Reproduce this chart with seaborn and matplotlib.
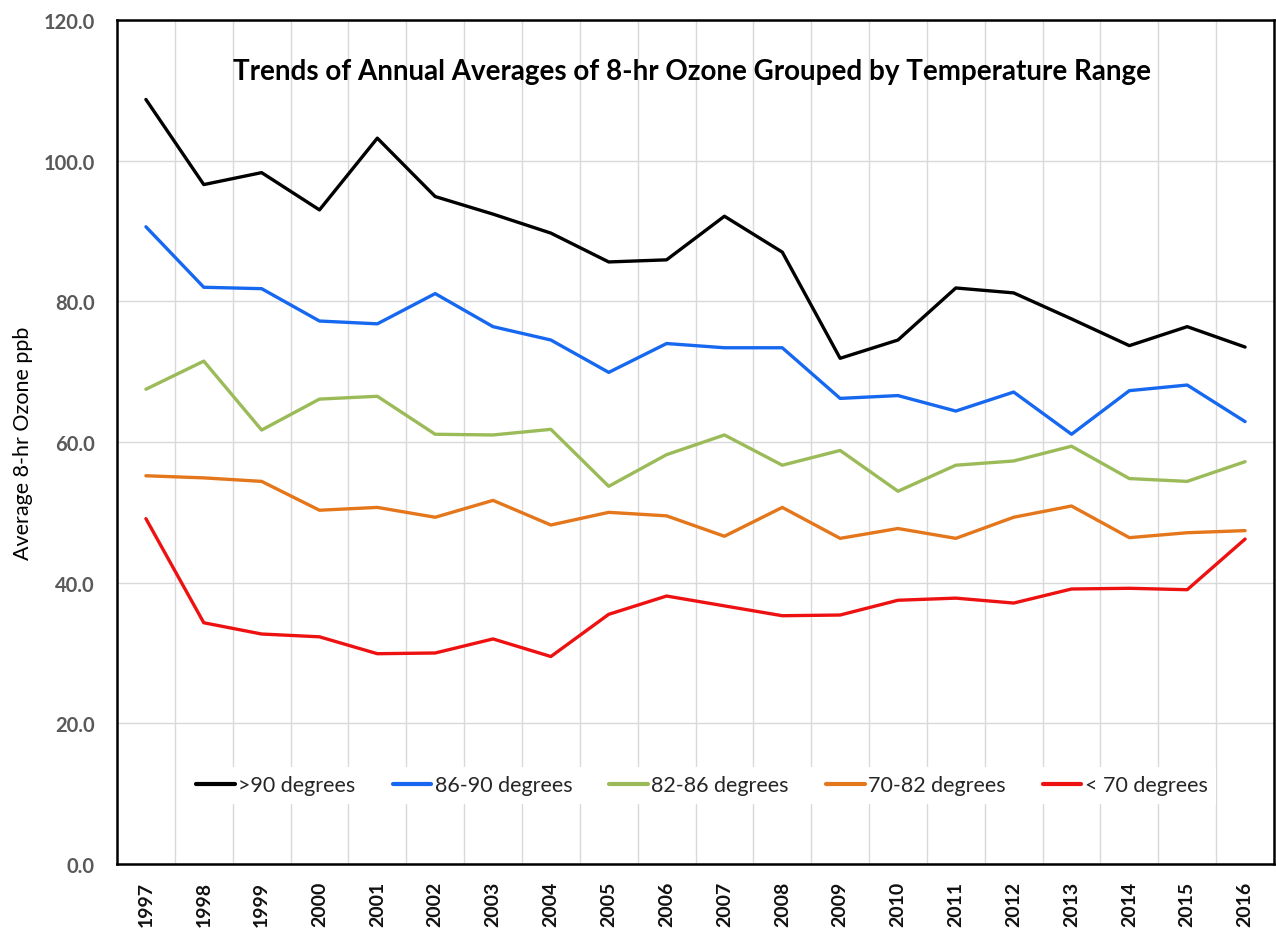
import matplotlib
matplotlib.use("Agg")
import matplotlib.pyplot as plt
import seaborn as sns
import pandas as pd
import numpy as np

years = [str(y) for y in range(1997, 2017)]
series_names = [">90 degrees", "86-90 degrees", "82-86 degrees", "70-82 degrees", "< 70 degrees"]
over90 = [108.7, 96.6, 98.3, 93.0, 103.2, 94.9, 92.4, 89.7, 85.6, 85.9,
          92.1, 87.0, 71.9, 74.5, 81.9, 81.2, 77.5, 73.7, 76.4, 73.5]
t86_90 = [90.6, 82.0, 81.8, 77.2, 76.8, 81.1, 76.4, 74.5, 69.9, 74.0,
          73.4, 73.4, 66.2, 66.6, 64.4, 67.1, 61.1, 67.3, 68.1, 62.9]
t82_86 = [67.5, 71.5, 61.7, 66.1, 66.5, 61.1, 61.0, 61.8, 53.7, 58.2,
          61.0, 56.7, 58.8, 53.0, 56.7, 57.3, 59.4, 54.8, 54.4, 57.2]
t70_82 = [55.2, 54.9, 54.4, 50.3, 50.7, 49.3, 51.7, 48.2, 50.0, 49.5,
          46.6, 50.7, 46.3, 47.7, 46.3, 49.3, 50.9, 46.4, 47.1, 47.4]
under70 = [49.1, 34.3, 32.7, 32.3, 29.9, 30.0, 32.0, 29.5, 35.5, 38.1,
           36.7, 35.3, 35.4, 37.5, 37.8, 37.1, 39.1, 39.2, 39.0, 46.2]
colors = ["#000000", "#1768F0", "#9BBB59", "#E4761B", "#EE1111"]
y_ticks = [0, 20, 40, 60, 80, 100, 120]

title = "Trends of Annual Averages of 8-hr Ozone Grouped by Temperature Range"
ylabel = "Average 8-hr Ozone ppb"

rows = []
for name, vals in zip(series_names, [over90, t86_90, t82_86, t70_82, under70]):
    for i, (yr, v) in enumerate(zip(years, vals)):
        rows.append({"idx": i, "year": yr, "series": name, "value": v})
df = pd.DataFrame(rows)

sns.set_theme(style="white")
plt.rcParams["font.family"] = ["Lato", "DejaVu Sans"]

fig = plt.figure(figsize=(12.76, 9.29), dpi=100)
ax = fig.add_axes([117 / 1276, 1 - 865 / 929, (1274 - 117) / 1276, (865 - 21) / 929])

sns.lineplot(data=df, x="idx", y="value", hue="series", hue_order=series_names,
             palette=colors, linewidth=2.4, ax=ax, legend=True)

ax.set_xlim(-0.5, len(years) - 0.5)
ax.set_ylim(0, 120)
ax.set_yticks(y_ticks)
ax.set_yticklabels([f"{v:.1f}" for v in y_ticks], fontsize=14.5, fontweight="bold", color="#595959")
ax.set_xticks(range(len(years)))
ax.set_xticklabels(years, rotation=90, fontsize=14, fontweight="bold", color="#111111")
ax.set_xticks(np.arange(0.5, len(years) - 1, 1.0), minor=True)
ax.tick_params(axis="both", which="both", length=0)
ax.tick_params(axis="y", pad=16)
ax.tick_params(axis="x", pad=12)
ax.grid(True, axis="y", which="major", color="#d9d9d9", linewidth=1)
ax.grid(True, axis="x", which="minor", color="#d9d9d9", linewidth=1)
ax.grid(False, axis="x", which="major")
ax.set_axisbelow(True)
for s in ax.spines.values():
    s.set_visible(True)
    s.set_color("black")
    s.set_linewidth(1.8)

ax.set_xlabel("")
ax.set_ylabel(ylabel, fontsize=15.5, color="black")
ax.yaxis.set_label_coords(-0.073, 0.5)

ax.text(0.497, 0.94, title, transform=ax.transAxes, ha="center", va="center",
        fontsize=20, fontweight="bold", color="black")

handles, labels = ax.get_legend_handles_labels()
leg = ax.legend(handles, labels, loc="lower left", bbox_to_anchor=(0.061, 0.071, 0.889, 0.071),
                mode="expand", ncol=5, frameon=True, facecolor="white", edgecolor="none",
                framealpha=1, fontsize=15.5, handlelength=1.8, handletextpad=0.15,
                borderaxespad=0, fancybox=False)
for line in leg.get_lines():
    line.set_linewidth(3.0)
leg.set_zorder(5)

fig.savefig("out.png", dpi=100)
